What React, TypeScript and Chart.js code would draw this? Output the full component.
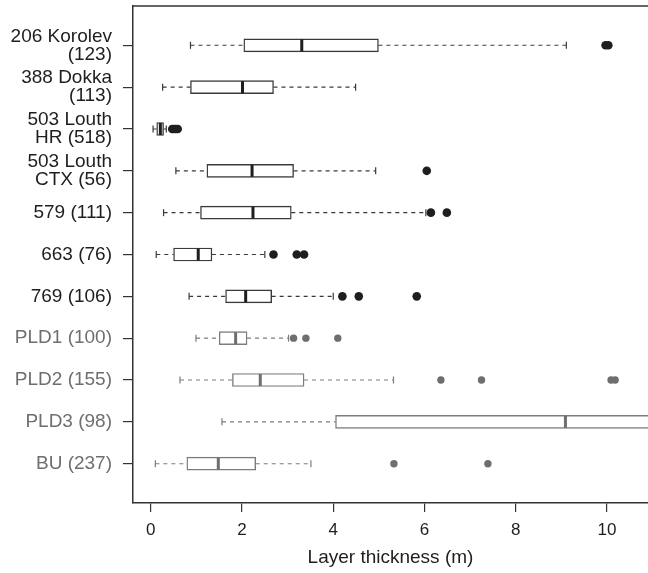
import React, { useEffect, useRef } from "react";
import { Chart, registerables } from "chart.js";

Chart.register(...registerables);

// ---- Data ----
const categories: (string | string[])[] = [
  ["206 Korolev", "(123)"],
  ["388 Dokka", "(113)"],
  ["503 Louth", "HR (518)"],
  ["503 Louth", "CTX (56)"],
  "579 (111)",
  "663 (76)",
  "769 (106)",
  "PLD1 (100)",
  "PLD2 (155)",
  "PLD3 (98)",
  "BU (237)",
];
const whiskerLow = [0.87, 0.26, 0.05, 0.55, 0.28, 0.12, 0.84, 0.99, 0.64, 1.56, 0.1];
const q1 = [2.04, 0.87, 0.13, 1.23, 1.09, 0.5, 1.64, 1.5, 1.79, 4.05, 0.79];
const median = [3.31, 2.01, 0.21, 2.22, 2.24, 1.04, 2.08, 1.86, 2.4, 9.09, 1.48];
const q3 = [4.99, 2.69, 0.28, 3.13, 3.08, 1.34, 2.65, 2.11, 3.36, 13.5, 2.3];
const whiskerHigh = [9.11, 4.49, 0.34, 4.93, 6.03, 2.5, 4.0, 3.02, 5.32, 22.0, 3.51];
const outliers: number[][] = [
  [9.97, 10.03],
  [],
  [0.47, 0.51, 0.55, 0.59],
  [6.05],
  [6.14, 6.49],
  [2.69, 3.2, 3.36],
  [4.2, 4.56, 5.83],
  [3.13, 3.4, 4.1],
  [6.36, 7.25, 10.09, 10.18],
  [],
  [5.33, 7.39],
];
const grayGroup = [false, false, false, false, false, false, false, true, true, true, true];
const xTicks = [0, 2, 4, 6, 8, 10];
const xTitle = "Layer thickness (m)";

// ---- Styles ----
const DARK = "#1e1e1e";
const DARK_LINE = "#3a3a3a";
const GRAY = "#6e6e6e";
const GRAY_LINE = "#7c7c7c";
const FONT = "'Liberation Sans', Arial, Helvetica, sans-serif";

const framePlugin = {
  id: "frameTop",
  afterDraw(chart: any) {
    const { ctx, chartArea } = chart;
    ctx.save();
    ctx.strokeStyle = "#333333";
    ctx.lineWidth = 1.5;
    ctx.beginPath();
    ctx.moveTo(chartArea.left - 0.75, chartArea.top);
    ctx.lineTo(chartArea.right + 2, chartArea.top);
    ctx.stroke();
    ctx.restore();
  },
};

export default function App() {
  const ref = useRef<HTMLCanvasElement>(null);

  useEffect(() => {
    document.body.style.margin = "0";
    document.body.style.overflow = "hidden";
    const canvas = ref.current;
    if (!canvas) return;

    const rows = categories.map((_, i) => i + 1);
    const groupIdx = (gray: boolean) => rows.map((_, i) => i).filter((i) => grayGroup[i] === gray);

    const whiskerData = (gray: boolean) => {
      const out: any[] = [];
      groupIdx(gray).forEach((i) => {
        const y = rows[i];
        out.push({ x: whiskerLow[i], y }, { x: q1[i], y }, { x: null, y: null });
        out.push({ x: q3[i], y }, { x: whiskerHigh[i], y }, { x: null, y: null });
      });
      return out;
    };
    const capData = (gray: boolean) => {
      const out: any[] = [];
      groupIdx(gray).forEach((i) => {
        out.push({ x: whiskerLow[i], y: rows[i] }, { x: whiskerHigh[i], y: rows[i] });
      });
      return out;
    };
    const outlierData = (gray: boolean) => {
      const out: any[] = [];
      groupIdx(gray).forEach((i) => {
        outliers[i].forEach((v) => out.push({ x: v, y: rows[i] }));
      });
      return out;
    };

    const datasets: any[] = [
      {
        type: "scatter",
        label: "median",
        order: 0,
        data: rows.map((y, i) => ({ x: median[i], y })),
        pointStyle: "line",
        pointRadius: 6,
        pointRotation: 90,
        pointBorderWidth: 3,
        pointBorderColor: rows.map((_, i) => (grayGroup[i] ? GRAY : DARK)),
      },
      {
        type: "scatter",
        label: "outliers dark",
        order: 1,
        data: outlierData(false),
        pointRadius: 4.3,
        pointBorderWidth: 0,
        pointBackgroundColor: DARK,
        pointBorderColor: DARK,
      },
      {
        type: "scatter",
        label: "outliers gray",
        order: 1,
        data: outlierData(true),
        pointRadius: 3.7,
        pointBorderWidth: 0,
        pointBackgroundColor: GRAY,
        pointBorderColor: GRAY,
      },
      {
        type: "scatter",
        label: "caps dark",
        order: 2,
        data: capData(false),
        pointStyle: "line",
        pointRadius: 3.5,
        pointRotation: 90,
        pointBorderWidth: 1.2,
        pointBorderColor: DARK_LINE,
      },
      {
        type: "scatter",
        label: "caps gray",
        order: 2,
        data: capData(true),
        pointStyle: "line",
        pointRadius: 3.5,
        pointRotation: 90,
        pointBorderWidth: 1.2,
        pointBorderColor: GRAY_LINE,
      },
      {
        type: "bar",
        label: "box",
        order: 3,
        data: rows.map((y, i) => ({ y, x: [q1[i], q3[i]] })),
        backgroundColor: "#ffffff",
        borderColor: rows.map((_, i) => (grayGroup[i] ? GRAY_LINE : DARK_LINE)),
        borderWidth: 1.4,
        borderSkipped: false,
        barThickness: 13,
      },
      {
        type: "scatter",
        label: "whiskers dark",
        order: 4,
        data: whiskerData(false),
        showLine: true,
        spanGaps: false,
        borderColor: DARK_LINE,
        borderWidth: 1.1,
        borderDash: [4, 4],
        pointRadius: 0,
      },
      {
        type: "scatter",
        label: "whiskers gray",
        order: 4,
        data: whiskerData(true),
        showLine: true,
        spanGaps: false,
        borderColor: GRAY_LINE,
        borderWidth: 1.1,
        borderDash: [4, 4],
        pointRadius: 0,
      },
    ];

    const chart = new Chart(canvas, {
      type: "bar",
      data: { datasets },
      plugins: [framePlugin],
      options: {
        animation: false,
        responsive: false,
        events: [],
        indexAxis: "y",
        layout: { autoPadding: false, padding: { top: 6, left: 0, right: 0, bottom: 0 } },
        plugins: { legend: { display: false }, tooltip: { enabled: false } },
        scales: {
          x: {
            type: "linear",
            min: -0.39,
            max: 10.9,
            afterBuildTicks: (scale: any) => {
              scale.ticks = xTicks.map((v) => ({ value: v }));
            },
            afterFit: (scale: any) => {
              scale.height = 70;
              scale.paddingLeft = 0;
              scale.paddingRight = 0;
            },
            grid: {
              display: true,
              drawOnChartArea: false,
              drawTicks: true,
              tickLength: 9,
              color: "#333333",
              lineWidth: 1.2,
            },
            border: { display: true, color: "#333333", width: 1.5 },
            ticks: {
              autoSkip: false,
              maxRotation: 0,
              padding: 8,
              color: DARK,
              font: { family: FONT, size: 17 },
              callback: (v: any) => String(v),
            },
            title: {
              display: true,
              text: xTitle,
              color: DARK,
              font: { family: FONT, size: 19 },
              padding: { top: 0, bottom: 4 },
            },
          },
          y: {
            type: "linear",
            reverse: true,
            min: 0.06,
            max: 11.94,
            offset: false,
            afterBuildTicks: (scale: any) => {
              scale.ticks = rows.map((v) => ({ value: v }));
            },
            afterFit: (scale: any) => {
              scale.width = 133;
              scale.paddingTop = 0;
              scale.paddingBottom = 0;
            },
            grid: {
              display: true,
              offset: false,
              drawOnChartArea: false,
              drawTicks: true,
              tickLength: 10,
              color: "#333333",
              lineWidth: 1.2,
            },
            border: { display: true, color: "#333333", width: 1.5 },
            ticks: {
              autoSkip: false,
              padding: 11,
              color: (ctx: any) => (grayGroup[Math.round(ctx.tick.value) - 1] ? GRAY : DARK),
              font: { family: FONT, size: 19, lineHeight: 0.95 },
              callback: (v: any) => categories[Math.round(Number(v)) - 1] as any,
            },
          },
        },
      } as any,
    });

    return () => chart.destroy();
  }, []);

  return (
    <div style={{ width: 648, height: 573 }}>
      <canvas ref={ref} width={648} height={573} style={{ display: "block" }} />
    </div>
  );
}
